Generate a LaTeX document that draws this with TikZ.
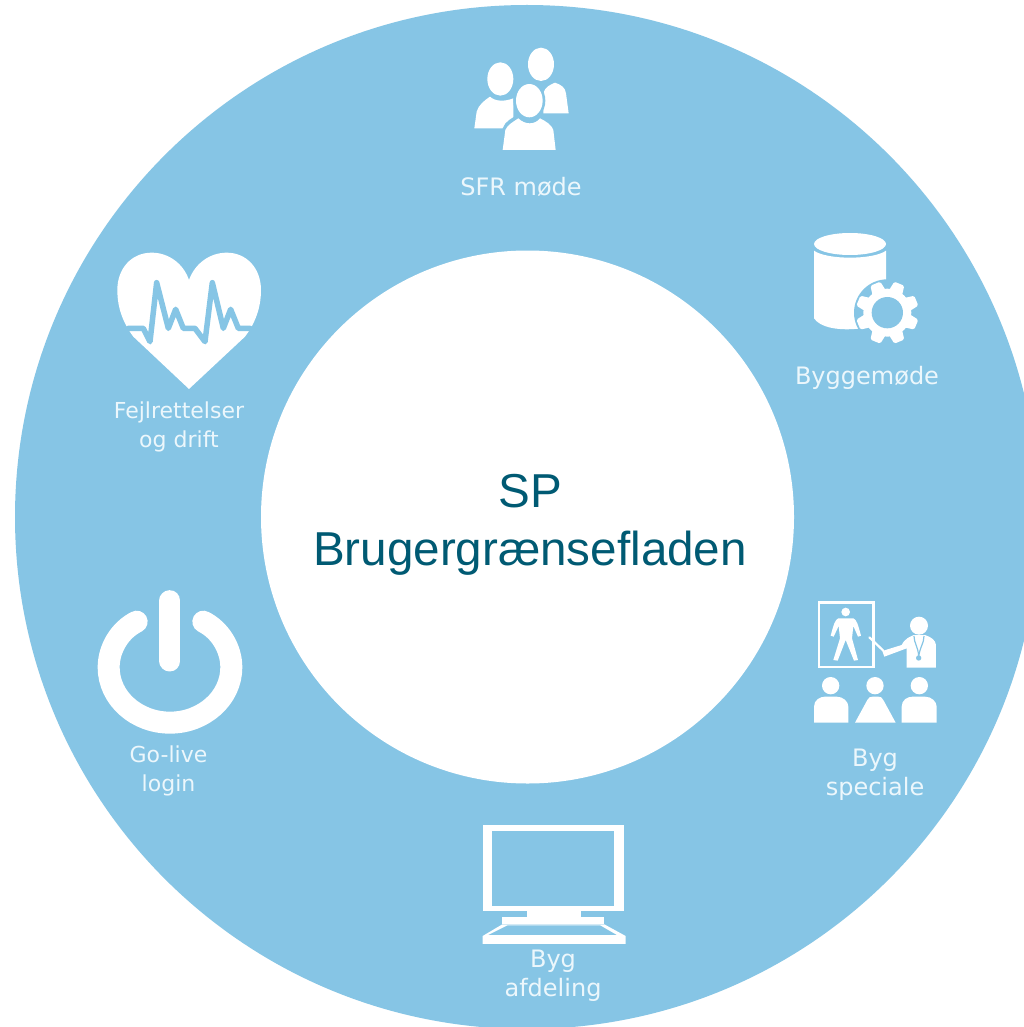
\documentclass[tikz,border=0pt]{standalone}
\usepackage{fontspec}
\setmainfont{Liberation Sans}
\newfontfamily\labelfont{DejaVu Sans}
\definecolor{ringblue}{RGB}{134,197,229}
\definecolor{labelwhite}{RGB}{236,247,252}
\definecolor{titleteal}{RGB}{0,90,115}
\tikzset{
  ringlabel/.style={text=labelwhite,font=\labelfont\fontsize{24}{29}\selectfont,align=center,inner sep=0pt},
  smalllabel/.style={ringlabel,font=\labelfont\fontsize{22}{29}\selectfont},
  iconwhite/.style={fill=white,draw=none},
  iconblue/.style={fill=ringblue,draw=none},
  zoomed/.style={x=0.3333pt,y=-0.3333pt}
}
\begin{document}
\begin{tikzpicture}[x=1pt,y=-1pt]
\useasboundingbox (0,0) rectangle (1024,1027);
\clip (0,0) rectangle (1024,1027);
\fill[white] (0,0) rectangle (1024,1027);
% ring
\fill[ringblue] (527,517) circle [radius=512pt];
\fill[white] (527.5,517) circle [radius=266.5pt];
\node[text=titleteal,font=\fontsize{47.6}{58}\selectfont,align=center,inner sep=0pt] (title) at (530,525) {SP\\Brugergrænsefladen};
% people
\begin{scope}[shift={(450,30)},zoomed]
  \fill[iconwhite] (280,250) -- (280,190) .. controls (285,170) and (300,165) .. (315,158) .. controls (335,165) and (345,172) .. (348,190) -- (356,250) -- cycle;
  \fill[iconwhite] (273,103) ellipse [x radius=39,y radius=50];
  \fill[iconwhite] (73,295) -- (80,245) .. controls (85,225) and (105,210) .. (120,200) .. controls (135,215) and (165,215) .. (190,205) -- (190,295) -- cycle;
  \fill[iconwhite] (151,147) ellipse [x radius=39,y radius=50];
  \fill[iconblue] (238,212) ellipse [x radius=48,y radius=58];
  \fill[iconblue] (150,370) -- (158,295) .. controls (165,275) and (185,263) .. (205,255) -- (270,255) .. controls (300,263) and (315,280) .. (325,370) -- cycle;
  \fill[iconwhite] (158,360) -- (166,300) .. controls (172,285) and (190,275) .. (205,265) .. controls (225,285) and (255,285) .. (270,265) .. controls (290,275) and (305,285) .. (310,300) -- (317,360) -- cycle;
  \fill[iconwhite] (238,212) ellipse [x radius=40,y radius=50];
\end{scope}
\node[ringlabel] (sfr) at (521,187) {SFR møde};
% database and gear
\begin{scope}[shift={(780,220)},zoomed]
  \fill[iconwhite] (102,92) .. controls (140,120) and (280,120) .. (318,92) -- (318,300) .. controls (300,325) and (140,350) .. (102,295) -- cycle;
  \fill[iconwhite] (210,72) ellipse [x radius=108,y radius=33];
  \fill[iconblue] (322,278) circle [radius=100];
  \foreach \a in {22.5,67.5,...,337.5} {
    \fill[iconwhite,rotate around={\a:(322,278)}] (322,278) ++(-16,-94) [rounded corners=1.5pt] -- ++(32,0) -- ++(6,35) -- ++(-44,0) -- cycle;
  }
  \fill[iconwhite] (322,278) circle [radius=72];
  \fill[iconblue] (322,278) circle [radius=47];
\end{scope}
\node[ringlabel] (bygge) at (867,378) {Byggemøde};
% presentation
\begin{scope}[shift={(790,590)},zoomed]
  \draw[white,line width=2.7pt] (87,37) rectangle (251,231);
  \fill[iconwhite] (167,66) circle [radius=13];
  \fill[iconwhite] (145,85) -- (190,85) .. controls (200,90) and (203,100) .. (213,137) -- (204,140) -- (190,108) -- (186,145) -- (204,210) -- (192,212) -- (167,150) -- (143,212) -- (130,210) -- (150,145) -- (146,108) -- (131,140) -- (122,137) .. controls (132,100) and (135,90) .. (145,85) -- cycle;
  \draw[white,line width=2.2pt,line cap=round] (238,142) -- (280,182);
  \fill[iconwhite] (387,107) circle [radius=27];
  \fill[iconwhite] (350,233) -- (350,175) -- (283,200) -- (277,183) -- (335,165) .. controls (345,145) and (360,140) .. (372,135) -- (405,135) .. controls (425,142) and (436,150) .. (438,165) -- (438,233) -- cycle;
  \draw[ringblue,line width=1.2pt] (372,138) .. controls (372,160) and (385,170) .. (386,200);
  \draw[ringblue,line width=1.2pt] (402,138) .. controls (402,160) and (390,170) .. (386,200);
  \fill[iconblue] (386,204) circle [radius=8];
  \foreach \cx in {122,255,388} { \fill[iconwhite] (\cx,287) circle [radius=26]; }
  \fill[iconwhite] (72,398) -- (72,350) .. controls (72,330) and (90,320) .. (105,320) -- (140,320) .. controls (160,320) and (175,335) .. (175,350) -- (175,398) -- cycle;
  \fill[iconwhite] (195,398) -- (232,330) .. controls (236,322) and (240,320) .. (248,320) -- (265,320) .. controls (272,320) and (276,322) .. (280,330) -- (317,398) -- cycle;
  \fill[iconwhite] (335,398) -- (335,350) .. controls (335,330) and (352,320) .. (368,320) -- (405,320) .. controls (425,320) and (440,335) .. (440,350) -- (440,398) -- cycle;
\end{scope}
\node[ringlabel] (special) at (875,775) {Byg\\speciale};
% monitor
\begin{scope}[shift={(460,810)},zoomed]
  \fill[iconwhite] (68,45) rectangle (493,303);
  \fill[iconblue] (97,63) rectangle (463,287);
  \fill[iconwhite] (200,303) rectangle (363,320);
  \fill[iconwhite] (127,320) rectangle (433,343);
  \fill[iconwhite] (127,343) -- (433,343) -- (497,378) -- (497,402) -- (68,402) -- (68,378) -- cycle;
  \fill[iconblue] (143,346) -- (420,346) -- (470,375) -- (85,375) -- cycle;
\end{scope}
\node[ringlabel] (afdeling) at (553,976) {Byg\\afdeling};
% power
\begin{scope}[shift={(80,580)},zoomed]
  \draw[white,line width=22pt,line cap=round] (170,125) .. controls (120,150) and (86,205) .. (86,262) .. controls (86,355) and (170,428) .. (270,428) .. controls (370,428) and (454,355) .. (454,262) .. controls (454,205) and (420,150) .. (370,125);
  \draw[white,line width=21pt,line cap=round] (270,62) -- (270,243);
\end{scope}
\node[smalllabel] (golive) at (168.5,771) {Go-live\\login};
% heart
\begin{scope}[shift={(100,240)},zoomed]
  \fill[iconwhite] (267,447) -- (100,290) .. controls (70,250) and (52,205) .. (52,150) .. controls (52,85) and (95,38) .. (155,38) .. controls (205,38) and (250,70) .. (267,120) .. controls (285,70) and (330,38) .. (380,38) .. controls (440,38) and (483,85) .. (483,150) .. controls (483,205) and (465,250) .. (435,290) -- cycle;
  \draw[ringblue,line width=5.5pt,line join=round,line cap=round] (85,265) -- (130,265) -- (150,305) -- (170,128) -- (205,265) -- (227,208) -- (250,265) -- (285,265) -- (315,305) -- (337,128) -- (370,265) -- (392,208) -- (415,265) -- (450,265);
\end{scope}
\node[smalllabel] (fejl) at (179,427) {Fejlrettelser\\og drift};
\end{tikzpicture}
\end{document}
